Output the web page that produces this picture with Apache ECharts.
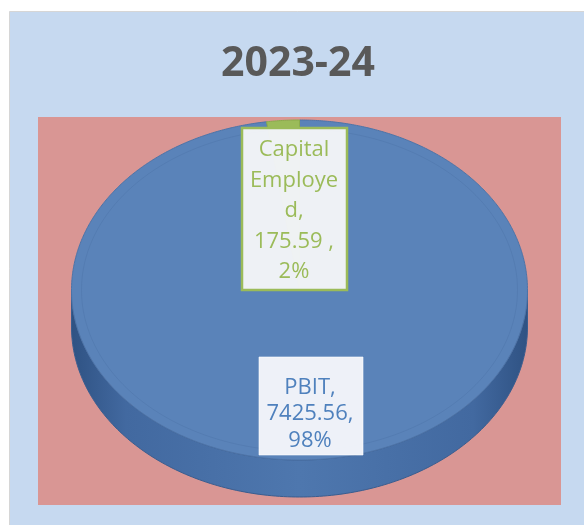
<!DOCTYPE html>
<html>
<head>
<meta charset="utf-8">
<script src="https://cdn.jsdelivr.net/npm/echarts@6/dist/echarts.min.js"></script>
<style>html,body{margin:0;padding:0;background:#fff;}#c{width:584px;height:525px;}</style>
</head>
<body>
<div id="c"></div>
<script>
var titleText = '2023-24';
var categories = ['PBIT', 'Capital Employed'];
var values = [7425.56, 175.59];
var valueLabels = ['7425.56,', '175.59 ,'];
var nameLabels = ['PBIT,', 'Capital\nEmploye\nd,'];

var sliceColors = ['#5a83b9', '#9bbb59'];
var textColors = ['#4f81bd', '#9bbb59'];
var total = values.reduce(function (a, b) { return a + b; }, 0);

// layout constants (pixels)
var CX = 299.5, CY = 290, RX = 228, RY = 170, DEPTH = 37;
var labelBoxes = [
  {x: 259, y: 357, w: 104, h: 98, tx: 310, ty: 414, lh: 26.5, fill: 'rgba(243,245,250,0.97)', stroke: 'rgba(255,255,255,0.6)', sw: 1},
  {x: 242, y: 128, w: 105, h: 162, tx: 294, ty: 211, lh: 30.5, fill: 'rgba(241,243,246,0.98)', stroke: '#9bbb59', sw: 2.5}
];

function pt(theta, dy) {
  var r = theta * Math.PI / 180;
  return [CX + RX * Math.sin(r), CY - RY * Math.cos(r) + (dy || 0)];
}

function renderItem(params, api) {
  var i = params.dataIndex;
  var before = 0;
  for (var k = 0; k < i; k++) before += values[k];
  var a0 = before / total * 360;
  var a1 = (before + api.value(0)) / total * 360;
  var children = [];
  var s0 = Math.max(a0, 90), s1 = Math.min(a1, 270);
  if (s1 > s0) {
    var side = [];
    var t;
    for (t = s0; t <= s1 + 1e-6; t += 1) side.push(pt(t, 0));
    side.push(pt(s1, 0));
    for (t = s1; t >= s0 - 1e-6; t -= 1) side.push(pt(t, DEPTH));
    side.push(pt(s0, DEPTH));
    children.push({
      type: 'polygon', z2: 1,
      shape: {points: side},
      style: {
        fill: new echarts.graphic.LinearGradient(0, 0, 1, 0, [
          {offset: 0, color: '#2f5283'},
          {offset: 0.12, color: '#4269a0'},
          {offset: 0.5, color: '#4e77ae'},
          {offset: 0.88, color: '#4269a0'},
          {offset: 1, color: '#2f5283'}
        ]),
        stroke: '#3a5d8f', lineWidth: 1
      }
    });
  }
  var top = [[CX, CY]];
  for (var t2 = a0; t2 <= a1 + 1e-6; t2 += 0.5) top.push(pt(t2, 0));
  top.push(pt(a1, 0));
  children.push({
    type: 'polygon', z2: 5,
    shape: {points: top},
    style: {fill: sliceColors[i], stroke: i === 0 ? '#4d74a8' : '#8aab4c', lineWidth: 1}
  });
  if (i === 0) {
    var ring = [];
    for (var t3 = 0; t3 <= 360; t3 += 2) {
      var r = t3 * Math.PI / 180;
      ring.push([CX + (RX - 10) * Math.sin(r), CY - (RY - 9) * Math.cos(r)]);
    }
    children.push({
      type: 'polyline', z2: 6, silent: true,
      shape: {points: ring},
      style: {fill: null, stroke: 'rgba(40,70,120,0.12)', lineWidth: 1}
    });
  }
  var b = labelBoxes[i];
  children.push({
    type: 'rect', z2: 20,
    shape: {x: b.x, y: b.y, width: b.w, height: b.h},
    style: {fill: b.fill, stroke: b.stroke, lineWidth: b.sw}
  });
  var pct = Math.round(api.value(0) / total * 100);
  children.push({
    type: 'text', z2: 21,
    style: {
      text: nameLabels[i] + '\n' + valueLabels[i] + '\n' + pct + '%',
      x: b.tx, y: b.ty,
      fill: textColors[i],
      fontFamily: 'Open Sans', fontSize: 22,
      align: 'center', verticalAlign: 'middle',
      lineHeight: b.lh
    }
  });
  return {type: 'group', children: children};
}

var chart = echarts.init(document.getElementById('c'), null, {renderer: 'canvas'});
chart.setOption({
  backgroundColor: '#ffffff',
  animation: false,
  title: {
    text: titleText,
    left: 293, top: 39, textAlign: 'center',
    textStyle: {fontFamily: 'Open Sans', fontWeight: 'bold', fontSize: 41, color: '#595959'}
  },
  graphic: [
    {type: 'rect', z: -10, shape: {x: 9.5, y: 11.5, width: 580, height: 520}, style: {fill: '#c6d9f0', stroke: '#d6d6d6', lineWidth: 1}},
    {type: 'rect', z: -9, shape: {x: 38, y: 117, width: 523, height: 388}, style: {fill: '#d99694'}}
  ],
  series: [{
    type: 'custom',
    coordinateSystem: 'none',
    renderItem: renderItem,
    data: values.map(function (v, i) { return {name: categories[i], value: [v]}; })
  }]
});
</script>
</body>
</html>
